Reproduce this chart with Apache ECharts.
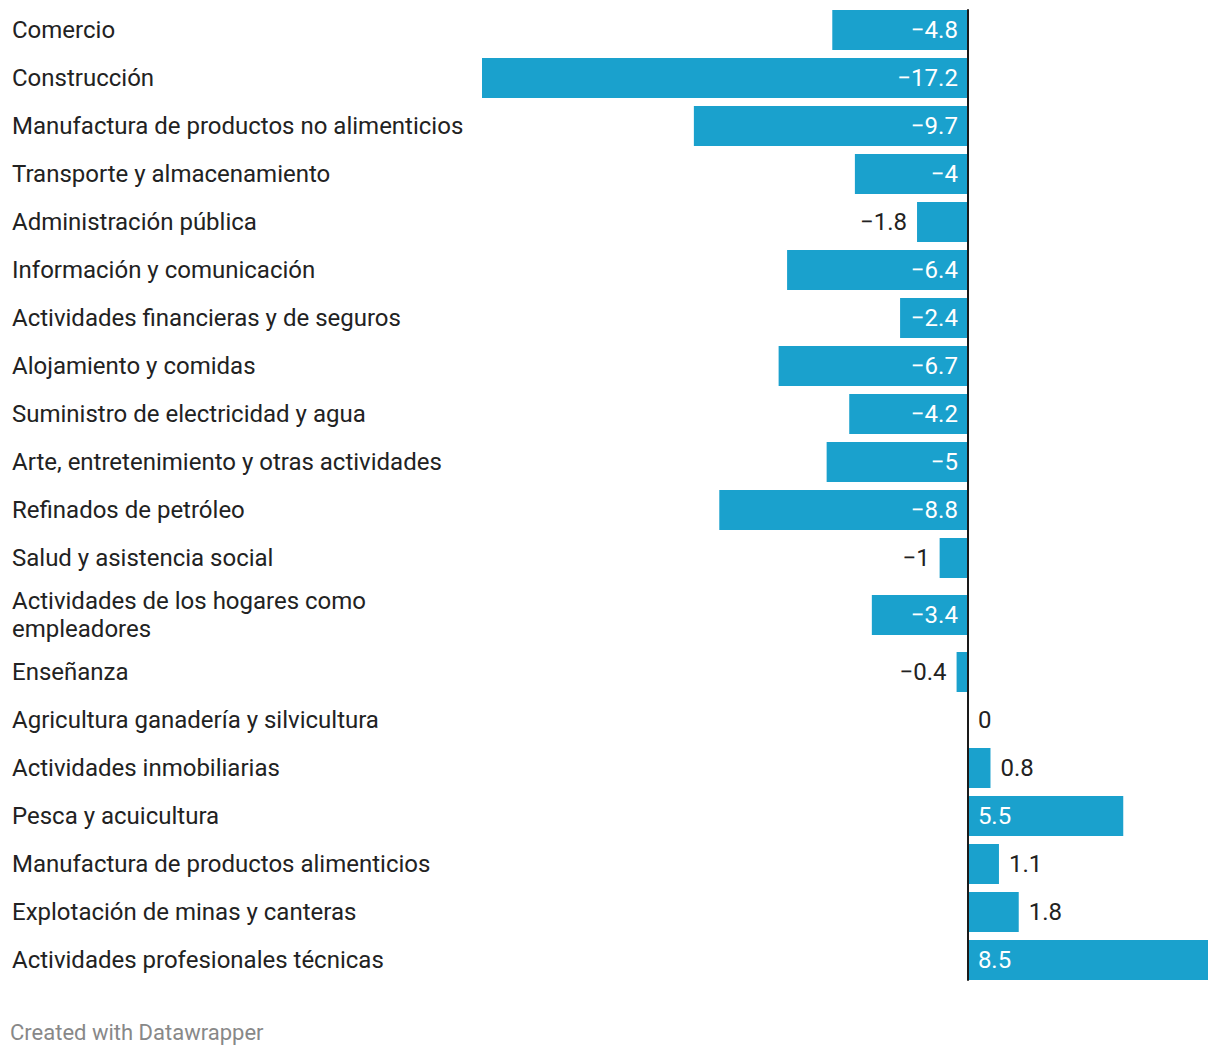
<!DOCTYPE html>
<html><head><meta charset="utf-8">
<script src="https://cdn.jsdelivr.net/npm/echarts@6/dist/echarts.min.js"></script>
<style>html,body{margin:0;padding:0;background:#fff}#c{width:1220px;height:1056px}</style>
</head><body><div id="c"></div>
<script>
const categories = [
  'Comercio',
  'Construcción',
  'Manufactura de productos no alimenticios',
  'Transporte y almacenamiento',
  'Administración pública',
  'Información y comunicación',
  'Actividades financieras y de seguros',
  'Alojamiento y comidas',
  'Suministro de electricidad y agua',
  'Arte, entretenimiento y otras actividades',
  'Refinados de petróleo',
  'Salud y asistencia social',
  'Actividades de los hogares como\nempleadores',
  'Enseñanza',
  'Agricultura ganadería y silvicultura',
  'Actividades inmobiliarias',
  'Pesca y acuicultura',
  'Manufactura de productos alimenticios',
  'Explotación de minas y canteras',
  'Actividades profesionales técnicas'
];
const values = [-4.8, -17.2, -9.7, -4, -1.8, -6.4, -2.4, -6.7, -4.2, -5, -8.8, -1, -3.4, -0.4, 0, 0.8, 5.5, 1.1, 1.8, 8.5];
const xMin = -17.2, xMax = 8.5;
const footerText = 'Created with Datawrapper';

const FONT = 'Roboto, "Noto Sans", sans-serif';
const chart = echarts.init(document.getElementById('c'), null, {renderer: 'svg'});
const LEFT = 482, RIGHT = 12, TOP = 6, ROW = 48, EXTRA = 18, BAR = 40;
const grids = [], xAxes = [], yAxes = [], series = [];
const fmt = v => (v < 0 ? '\u2212' + Math.abs(v) : String(v));
let y = TOP;
categories.forEach((cat, i) => {
  const lines = cat.split('\n').length;
  const h = ROW + (lines - 1) * EXTRA;
  grids.push({left: LEFT, right: RIGHT, top: y, height: h});
  xAxes.push({type: 'value', gridIndex: i, min: xMin, max: xMax, show: false});
  yAxes.push({
    type: 'category', gridIndex: i, data: [cat],
    axisLine: {show: false}, axisTick: {show: false},
    axisLabel: {align: 'left', margin: LEFT - 12, fontFamily: FONT, fontSize: 24, color: '#222', lineHeight: 28}
  });
  const v = values[i];
  const inside = Math.abs(v) >= 2;
  series.push({
    type: 'bar', xAxisIndex: i, yAxisIndex: i, barWidth: BAR, data: [v],
    itemStyle: {color: '#1aa1cd'},
    label: {
      show: true,
      position: v < 0 ? (inside ? 'insideRight' : 'left') : (inside ? 'insideLeft' : 'right'),
      distance: 10,
      color: inside ? '#ffffff' : '#222',
      fontFamily: FONT, fontSize: 24,
      formatter: p => fmt(p.value)
    },
    silent: true, animation: false
  });
  y += h;
});
const n = categories.length;
const pad = (ROW - BAR) / 2;
grids.push({left: LEFT, right: RIGHT, top: TOP + pad, height: y - pad - (TOP + pad)});
xAxes.push({type: 'value', gridIndex: n, min: xMin, max: xMax, show: false});
yAxes.push({
  type: 'value', gridIndex: n, min: 0, max: 1, z: 10,
  axisLine: {show: true, onZero: true, lineStyle: {color: '#1a1a1a', width: 2}},
  axisTick: {show: false}, axisLabel: {show: false}, splitLine: {show: false}
});

chart.setOption({
  animation: false,
  backgroundColor: '#ffffff',
  title: {
    text: footerText, left: 10, top: 1021, padding: 0,
    textStyle: {fontFamily: FONT, fontSize: 22, fontWeight: 'normal', color: '#888'}
  },
  grid: grids, xAxis: xAxes, yAxis: yAxes, series: series
});
</script>
</body></html>
